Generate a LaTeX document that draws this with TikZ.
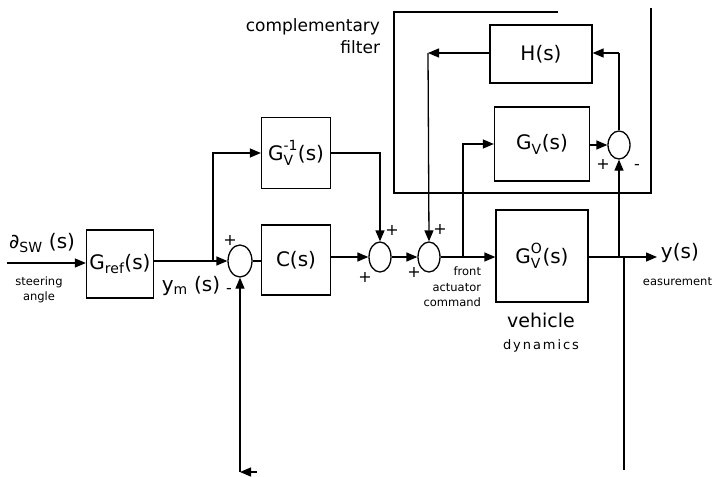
\documentclass[tikz,border=0pt]{standalone}
\usepackage{amsmath}
\usepackage{fontspec}
\setmainfont{DejaVu Sans}
\usetikzlibrary{positioning,shapes.geometric,arrows.meta}
\newcommand{\tfGV}[1]{$\text{G}_{\text{V}}^{\text{#1}}$(s)}

\begin{document}
\begin{tikzpicture}[x=1pt,y=-1pt,>={Triangle[length=11pt,width=9pt]},line width=1.3pt,
  blk/.style={draw,inner sep=0pt,font=\fontsize{20}{24}\selectfont},
  sumnode/.style={draw,ellipse,inner sep=0pt,minimum width=22pt,minimum height=30pt},
  bigtxt/.style={font=\fontsize{20}{24}\selectfont},
  smalltxt/.style={font=\fontsize{11.5}{15.5}\selectfont},
  sgn/.style={font=\fontsize{16}{16}\selectfont}]
\useasboundingbox (0,0) rectangle (719,476);
% blocks
\node[blk,minimum width=67pt,minimum height=68pt] (gref) at (120,264) {G$_{\text{ref}}$(s)};
\node[blk,minimum width=69pt,minimum height=71pt] (gvinv) at (296,153) {\tfGV{-1}};
\node[blk,minimum width=69pt,minimum height=70pt] (ctrl) at (296,260) {C(s)};
\node[blk,minimum width=92pt,minimum height=92pt] (gvo) at (542,256) {\tfGV{O}};
\node[blk,minimum width=95pt,minimum height=74pt] (gv) at (542,144) {\tfGV{}};
\node[blk,minimum width=102pt,minimum height=58pt] (hfilt) at (541,54) {H(s)};
% summing junctions
\node[sumnode,minimum width=24pt,minimum height=32pt] (s1) at (240,261) {};
\node[sumnode] (s2) at (380,257) {};
\node[sumnode] (s3) at (429,257) {};
\node[sumnode,minimum height=28pt] (s4) at (619,145) {};
% points
\coordinate (u) at (7,263);
\coordinate (b1) at (213,261);
\coordinate (b2) at (463,257);
\coordinate (b3) at (619,257);
\coordinate (b4) at (624,257);
\coordinate (yout) at (657,257);
\coordinate (hin) at (619,53);
\coordinate (hc) at (428,53);
\coordinate (fb) at (240,472);
\coordinate (fbr) at (257,472);
\coordinate (mend) at (624,470);
% complementary filter frame
\draw (558,12) -- (394,12) -- (394,193) -- (651,193) -- (651,8);
% connections
\draw[->] (u) -- (gref.west |- u);
\draw (gref.east |- b1) -- (b1);
\draw[->] (b1) -- (s1.west);
\draw[->] (b1) |- (gvinv.west);
\draw (s1.east) -- (ctrl.west |- s1.east);
\draw[->] (ctrl.east |- s2.west) -- (s2.west);
\draw[->] (gvinv.east) -| (s2.north);
\draw[->] (s2.east) -- (s3.west);
\draw[->] (s3.east) -- (gvo.west |- s3.east);
\draw[->] (b2) |- (gv.west);
\draw[->] (gvo.east |- yout) -- (yout);
\draw[->] (b3) -- (s4.south);
\draw[->] (gv.east |- s4.west) -- (s4.west);
\draw (s4.north) -- (hin);
\draw[->] (hin) -- (hfilt.east |- hin);
\draw[->] (hfilt.west |- hc) -- (hc);
\draw[->] (hc) -- (s3.north);
\draw (b4) -- (mend);
\draw[->] (fbr) -- (fb);
\draw[->] (fb) -- (s1.south);
% signs
\node[sgn] (p1) at (230,240) {+};
\node[sgn] (m1) at (229,291) {-};
\node[sgn] (p2) at (392,230) {+};
\node[sgn] (p3) at (365,277) {+};
\node[sgn] (p4) at (440,229) {+};
\node[sgn] (p5) at (414,272) {+};
\node[sgn] (p6) at (603,164) {+};
\node[sgn] (m2) at (637,167) {-};
% labels
\node[bigtxt] (sw) at (42,243) {$\text{∂}_{\text{SW}}$ (s)};
\node[smalltxt,align=center] (steer) at (39,290) {steering\\angle};
\node[bigtxt] (ym) at (191,286) {y$_{\text{m}}$ (s)};
\node[font=\fontsize{17}{22}\selectfont,align=right,anchor=east] (comp) at (384,36) {complementary\\filter};
\node[smalltxt,align=right,anchor=east] (fac) at (485,287) {front\\actuator\\command};
\node[font=\fontsize{19}{22}\selectfont] (veh) at (541,320) {vehicle};
\node[font=\fontsize{13}{15}\selectfont\addfontfeature{LetterSpace=15}] (dyn) at (541,346) {dynamics};
\node[bigtxt,anchor=west] (ys) at (657,253) {y(s)};
\node[smalltxt,anchor=west] (meas) at (639,282) {easurement};
\end{tikzpicture}
\end{document}
